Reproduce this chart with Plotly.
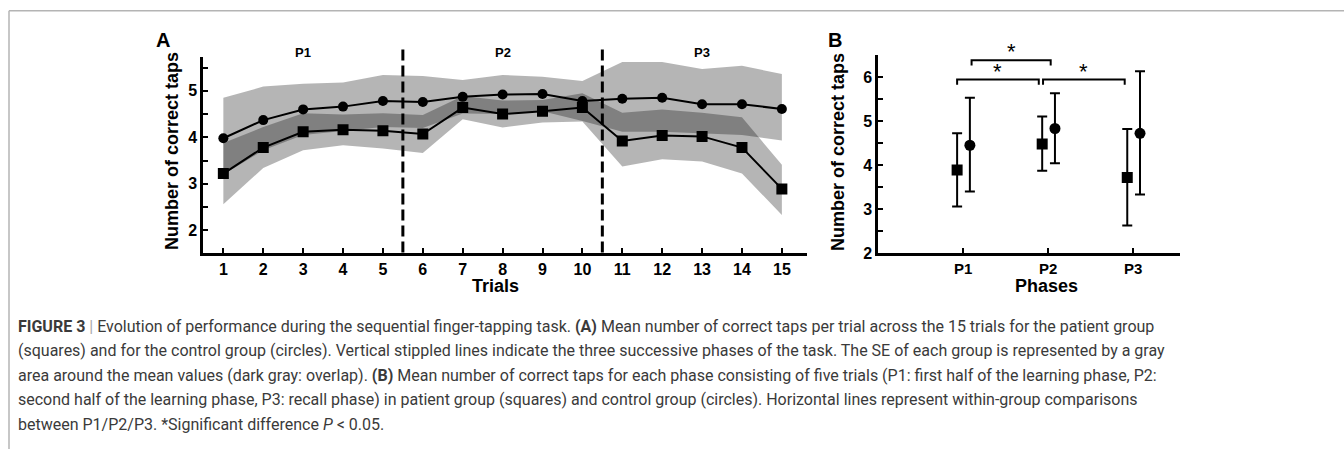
import plotly.graph_objects as go

# ---------------- data ----------------
trials = list(range(1, 16))

patient_mean = [3.22, 3.78, 4.12, 4.16, 4.14, 4.07, 4.64, 4.50, 4.56, 4.64, 3.92, 4.04, 4.02, 3.78, 2.89]
patient_upper = [3.88, 4.22, 4.52, 4.49, 4.52, 4.48, 4.89, 4.79, 4.80, 4.95, 4.53, 4.60, 4.53, 4.43, 3.41]
patient_lower = [2.56, 3.34, 3.72, 3.83, 3.76, 3.66, 4.39, 4.21, 4.32, 4.34, 3.37, 3.53, 3.48, 3.22, 2.33]

control_mean = [3.98, 4.37, 4.60, 4.66, 4.78, 4.76, 4.87, 4.92, 4.93, 4.78, 4.83, 4.85, 4.71, 4.71, 4.61]
control_upper = [4.85, 5.09, 5.15, 5.18, 5.34, 5.32, 5.23, 5.34, 5.30, 5.21, 5.62, 5.62, 5.47, 5.54, 5.36]
control_lower = [3.20, 3.72, 4.05, 4.14, 4.22, 4.20, 4.51, 4.50, 4.56, 4.35, 4.12, 4.12, 4.08, 4.05, 3.93]

phase_labels = ["P1", "P2", "P3"]
phase_bounds = [5.5, 10.5]
phase_centers = [3, 8, 13]

patient_phase_mean = [3.89, 4.48, 3.72]
patient_phase_hi = [4.72, 5.10, 4.82]
patient_phase_lo = [3.06, 3.87, 2.63]

control_phase_mean = [4.45, 4.83, 4.72]
control_phase_hi = [5.53, 5.63, 6.13]
control_phase_lo = [3.40, 4.04, 3.33]

# ---------------- styling ----------------
W, H = 1344, 458
FONT = "Liberation Sans, Arial, sans-serif"
CAPTION_FONT = "Roboto, Arial, sans-serif"
BAND = "rgba(0,0,0,0.29)"


def px_x(p):
    return p / W


def px_y(p):
    return 1 - p / H


fig = go.Figure()

# ---- panel A: SE bands (overlap darkens naturally) ----
for upper, lower in [(control_upper, control_lower), (patient_upper, patient_lower)]:
    fig.add_trace(go.Scatter(
        x=trials + trials[::-1],
        y=upper + lower[::-1],
        fill="toself", fillcolor=BAND, line=dict(width=0),
        mode="lines", hoverinfo="skip", xaxis="x", yaxis="y",
    ))

# ---- panel A: means ----
fig.add_trace(go.Scatter(
    x=trials, y=control_mean, mode="lines+markers",
    line=dict(color="black", width=2),
    marker=dict(symbol="circle", size=10, color="black"),
    xaxis="x", yaxis="y", name="Control",
))
fig.add_trace(go.Scatter(
    x=trials, y=patient_mean, mode="lines+markers",
    line=dict(color="black", width=2),
    marker=dict(symbol="square", size=11, color="black"),
    xaxis="x", yaxis="y", name="Patients",
))

# ---- panel B: phase means with error bars ----
sq_off, ci_off = -0.07, 0.08
fig.add_trace(go.Scatter(
    x=[i + 1 + sq_off for i in range(3)], y=patient_phase_mean, mode="markers",
    marker=dict(symbol="square", size=11, color="black"),
    error_y=dict(type="data", symmetric=False,
                 array=[h - m for h, m in zip(patient_phase_hi, patient_phase_mean)],
                 arrayminus=[m - l for m, l in zip(patient_phase_mean, patient_phase_lo)],
                 color="black", thickness=2, width=5),
    xaxis="x2", yaxis="y2", name="Patients",
))
fig.add_trace(go.Scatter(
    x=[i + 1 + ci_off for i in range(3)], y=control_phase_mean, mode="markers",
    marker=dict(symbol="circle", size=11, color="black"),
    error_y=dict(type="data", symmetric=False,
                 array=[h - m for h, m in zip(control_phase_hi, control_phase_mean)],
                 arrayminus=[m - l for m, l in zip(control_phase_mean, control_phase_lo)],
                 color="black", thickness=2, width=5),
    xaxis="x2", yaxis="y2", name="Control",
))

shapes = []
annotations = []

# phase separators in panel A
for b in phase_bounds:
    shapes.append(dict(type="line", xref="x", yref="paper", x0=b, x1=b,
                       y0=px_y(257.5), y1=px_y(49),
                       line=dict(color="black", width=3, dash="11px,5px")))
for lab, c in zip(phase_labels, phase_centers):
    annotations.append(dict(text=lab, x=c, y=px_y(54), xref="x", yref="paper",
                            xanchor="center", yanchor="middle", showarrow=False,
                            font=dict(family=FONT, size=13, color="black", weight="bold")))

# significance brackets in panel B
brackets = [(1.10, 2.03, 6.38), (0.93, 1.89, 5.94), (1.94, 2.90, 5.94)]
for x0, x1, yb in brackets:
    shapes.append(dict(type="path", xref="x2", yref="y2",
                       path=f"M {x0},{yb - 0.12} L {x0},{yb} L {x1},{yb} L {x1},{yb - 0.12}",
                       line=dict(color="black", width=2)))
    annotations.append(dict(text="*", x=(x0 + x1) / 2, y=yb, xref="x2", yref="y2",
                            xanchor="center", yanchor="bottom", yshift=-6, showarrow=False,
                            font=dict(family=FONT, size=22, color="black")))

# panel letters
annotations.append(dict(text="<b>A</b>", x=px_x(154), y=px_y(28), xref="paper", yref="paper",
                        xanchor="left", yanchor="top", showarrow=False,
                        font=dict(family=FONT, size=20, color="black")))
annotations.append(dict(text="<b>B</b>", x=px_x(826), y=px_y(28), xref="paper", yref="paper",
                        xanchor="left", yanchor="top", showarrow=False,
                        font=dict(family=FONT, size=20, color="black")))

# axis titles
title_font = dict(family=FONT, size=18, color="black", weight="bold")
annotations.append(dict(text="Number of correct taps", x=px_x(172), y=px_y(154), xref="paper", yref="paper",
                        xanchor="center", yanchor="middle", textangle=-90, showarrow=False, font=title_font))
annotations.append(dict(text="Number of correct taps", x=px_x(838), y=px_y(155), xref="paper", yref="paper",
                        xanchor="center", yanchor="middle", textangle=-90, showarrow=False, font=title_font))
annotations.append(dict(text="Trials", x=px_x(495), y=px_y(292), xref="paper", yref="paper",
                        xanchor="center", yanchor="middle", showarrow=False, font=title_font))
annotations.append(dict(text="Phases", x=px_x(1046), y=px_y(292), xref="paper", yref="paper",
                        xanchor="center", yanchor="middle", showarrow=False, font=title_font))

# caption
caption_lines = [
    "<b>FIGURE 3</b> <span style='color:#aaaaaa'>|</span> Evolution of performance during the sequential finger-tapping task. <b>(A)</b> Mean number of correct taps per trial across the 15 trials for the patient group",
    "(squares) and for the control group (circles). Vertical stippled lines indicate the three successive phases of the task. The SE of each group is represented by a gray",
    "area around the mean values (dark gray: overlap). <b>(B)</b> Mean number of correct taps for each phase consisting of five trials (P1: first half of the learning phase, P2:",
    "second half of the learning phase, P3: recall phase) in patient group (squares) and control group (circles). Horizontal lines represent within-group comparisons",
    "between P1/P2/P3. *Significant difference <i>P</i> &lt; 0.05.",
]
for i, line in enumerate(caption_lines):
    annotations.append(dict(text=line, x=px_x(16), y=px_y(333 + 25 * i), xref="paper", yref="paper",
                            xanchor="left", yanchor="middle", showarrow=False,
                            font=dict(family=CAPTION_FONT, size=16, color="#3a3a3a")))

# outer frame (top and left edges)
frame = dict(color="#b4b4b4", width=1.5)
shapes.append(dict(type="line", xref="paper", yref="paper", x0=px_x(9), x1=1, y0=px_y(11), y1=px_y(11), line=frame))
shapes.append(dict(type="line", xref="paper", yref="paper", x0=px_x(9), x1=px_x(9), y0=0, y1=px_y(11), line=frame))

tick_font = dict(family=FONT, size=16, color="black", weight="bold")
axis_common = dict(showline=True, linecolor="black", linewidth=2.5, ticks="inside",
                   tickcolor="black", tickwidth=2, ticklen=5, showgrid=False, zeroline=False,
                   tickfont=tick_font)

fig.update_layout(
    width=W, height=H, margin=dict(l=0, r=0, t=0, b=0),
    paper_bgcolor="white", plot_bgcolor="white", showlegend=False,
    xaxis=dict(domain=[px_x(203), px_x(807)], range=[0.49, 15.63], anchor="y",
               tickvals=trials, ticktext=[str(t) for t in trials], **axis_common),
    yaxis=dict(domain=[px_y(257.7), px_y(58)], range=[1.52, 5.73], anchor="x",
               tickvals=[2, 2.5, 3, 3.5, 4, 4.5, 5, 5.5],
               ticktext=["2", "", "3", "", "4", "", "5", ""], **axis_common),
    xaxis2=dict(domain=[px_x(878), px_x(1180)], range=[0, 3.55], anchor="y2",
                tickvals=[1, 2, 3], ticktext=phase_labels,
                **{**axis_common, "tickfont": dict(family=FONT, size=15, color="black", weight="bold")}),
    yaxis2=dict(domain=[px_y(258.3), px_y(56)], range=[2, 6.5], anchor="x2",
                tickvals=[2, 2.5, 3, 3.5, 4, 4.5, 5, 5.5, 6, 6.5],
                ticktext=["2", "", "3", "", "4", "", "5", "", "6", ""], **axis_common),
    shapes=shapes, annotations=annotations,
)

fig.write_html("out.html")
